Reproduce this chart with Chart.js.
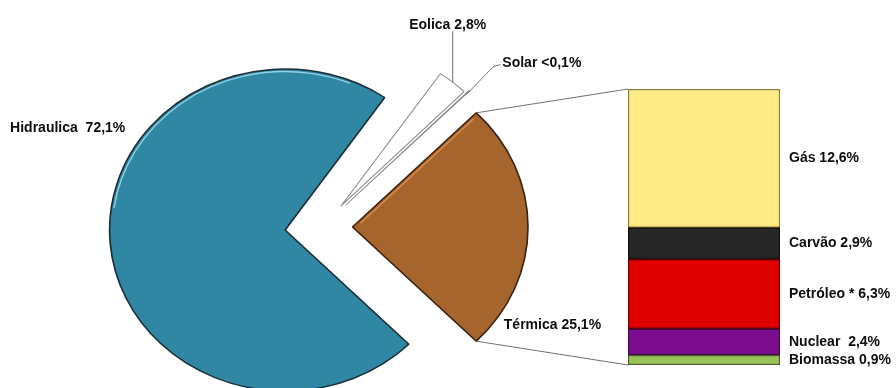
<!DOCTYPE html>
<html lang="pt">
<head>
<meta charset="utf-8">
<title>Matriz elétrica</title>
<script src="https://cdn.jsdelivr.net/npm/chart.js@4.4.1/dist/chart.umd.min.js"></script>
<style>
    html, body { margin: 0; padding: 0; background: #fff; }
    #quadro { position: relative; width: 896px; height: 388px; overflow: hidden; }
    #quadro canvas { position: absolute; left: 0; top: 0; }
</style>
</head>
<body>
<div id="quadro">
    <canvas id="graficoPizza" width="896" height="388"></canvas>
    <canvas id="graficoBarra" width="896" height="388"></canvas>
</div>
<script>
// participação de cada fonte (%)
const fontes = ['Hidraulica', 'Eolica', 'Solar', 'Térmica'];
const valoresFontes = [72.1, 2.8, 0.05, 25.1];
const rotulosFontes = ['Hidraulica  72,1%', 'Eolica 2,8%', 'Solar <0,1%', 'Térmica 25,1%'];

// abertura da térmica (%), de baixo para cima
const termicas = ['Biomassa', 'Nuclear', 'Petróleo', 'Carvão', 'Gás'];
const valoresTermicas = [0.9, 2.4, 6.3, 2.9, 12.6];
const rotulosTermicas = ['Biomassa 0,9%', 'Nuclear  2,4%', 'Petróleo * 6,3%', 'Carvão 2,9%', 'Gás 12,6%'];

// estilo
const coresFontes = ['#2f87a4', '#ffffff', '#ffffff', '#a5652c'];
const bordasFontes = ['#1b2e35', '#8a8a8a', '#8a8a8a', '#3a2210'];
const brilhos = ['rgba(165,222,240,0.85)', null, null, 'rgba(235,150,80,0.9)'];
const coresTermicas = ['#98c35a', '#7b0d8c', '#e00000', '#262626', '#ffeb85'];
const bordasTermicas = ['#4b5e2a', '#3a0742', '#6e0000', '#0d0d0d', '#8c7d3a'];
const explosao = [34, 27, 31, 28];
const esticarX = 1.09;
const fonteTexto = 'bold 14px "Liberation Sans", Arial, sans-serif';
const corTexto = '#0d0d0d';
const corLinha = '#707070';

const indiceTermica = fontes.indexOf('Térmica');
const totalFontes = valoresFontes.reduce((a, b) => a + b, 0);
const antesTermica = valoresFontes.slice(0, indiceTermica).reduce((a, b) => a + b, 0);
// gira a pizza para a fatia térmica ficar voltada para a barra
const rotacao = 90 - 360 * (antesTermica + valoresFontes[indiceTermica] / 2) / totalFontes;
const totalTermicas = valoresTermicas.reduce((a, b) => a + b, 0);

function centro(chart) {
    const a = chart.chartArea;
    return { cx: (a.left + a.right) / 2, cy: (a.top + a.bottom) / 2 };
}

// ponto do arco (espaço sem esticar) levado para a tela
function pontoArco(chart, arco, anguloGraus, r) {
    const { cx } = centro(chart);
    const ang = anguloGraus * Math.PI / 180;
    const x = arco.x + r * Math.cos(ang);
    const y = arco.y + r * Math.sin(ang);
    return { x: cx + (x - cx) * esticarX, y: y };
}

const graus = (rad) => rad * 180 / Math.PI;
const rad = (g) => g * Math.PI / 180;

const pluginExplosao = {
    id: 'explosao',
    afterDatasetUpdate(chart) {
        const { cx, cy } = centro(chart);
        chart.getDatasetMeta(0).data.forEach((arco, i) => {
            const meio = (arco.startAngle + arco.endAngle) / 2;
            arco.x = cx + explosao[i] * Math.cos(meio);
            arco.y = cy + explosao[i] * Math.sin(meio);
        });
    },
    beforeDatasetsDraw(chart) {
        const ctx = chart.ctx;
        const { cx, cy } = centro(chart);
        ctx.save();
        ctx.translate(cx, cy);
        ctx.scale(esticarX, 1);
        ctx.translate(-cx, -cy);
    },
    afterDatasetsDraw(chart) {
        // leve brilho nas bordas, imitando o relevo do original
        const ctx = chart.ctx;
        const arcos = chart.getDatasetMeta(0).data;
        ctx.lineWidth = 1.3;
        const hid = arcos[0];
        ctx.strokeStyle = brilhos[0];
        ctx.beginPath();
        ctx.arc(hid.x, hid.y, hid.outerRadius - 2.5, rad(188), rad(292));
        ctx.stroke();
        const ter = arcos[indiceTermica];
        const s = ter.startAngle;
        const nx = Math.cos(s + Math.PI / 2) * 2.5;
        const ny = Math.sin(s + Math.PI / 2) * 2.5;
        ctx.strokeStyle = brilhos[indiceTermica];
        ctx.beginPath();
        ctx.moveTo(ter.x + nx + Math.cos(s) * 8, ter.y + ny + Math.sin(s) * 8);
        ctx.lineTo(ter.x + nx + Math.cos(s) * (ter.outerRadius - 6), ter.y + ny + Math.sin(s) * (ter.outerRadius - 6));
        ctx.stroke();
        ctx.restore();
    }
};

const pluginRotulosPizza = {
    id: 'rotulosPizza',
    afterDraw(chart) {
        const ctx = chart.ctx;
        const arcos = chart.getDatasetMeta(0).data;
        const raio = arcos[0].outerRadius;
        ctx.save();
        ctx.font = fonteTexto;
        ctx.fillStyle = corTexto;
        ctx.strokeStyle = corLinha;
        ctx.lineWidth = 1;
        ctx.textBaseline = 'middle';

        // Hidraulica, à esquerda
        let p = pontoArco(chart, arcos[0], -140.7, raio);
        ctx.textAlign = 'right';
        ctx.fillText(rotulosFontes[0], p.x - 24, p.y);

        // Eolica, com linha vertical
        let a = arcos[1];
        p = pontoArco(chart, a, graus((a.startAngle + a.endAngle) / 2), raio);
        ctx.beginPath();
        ctx.moveTo(p.x, p.y);
        ctx.lineTo(p.x, p.y - 51);
        ctx.stroke();
        ctx.textAlign = 'center';
        ctx.fillText(rotulosFontes[1], p.x - 5, p.y - 57);

        // Solar, com linha quebrada
        a = arcos[2];
        p = pontoArco(chart, a, graus((a.startAngle + a.endAngle) / 2), raio);
        ctx.beginPath();
        ctx.moveTo(p.x - 3, p.y + 4);
        ctx.lineTo(p.x + 24, p.y - 24);
        ctx.lineTo(p.x + 31, p.y - 26);
        ctx.stroke();
        ctx.textAlign = 'left';
        ctx.fillText(rotulosFontes[2], p.x + 33, p.y - 28);

        // Térmica
        p = pontoArco(chart, arcos[3], 38, raio);
        ctx.fillText(rotulosFontes[3], p.x + 13, p.y - 1);
        ctx.restore();
    }
};

const pizza = new Chart(document.getElementById('graficoPizza'), {
    type: 'pie',
    data: {
        labels: fontes,
        datasets: [{
            data: valoresFontes,
            backgroundColor: coresFontes,
            borderColor: bordasFontes,
            borderWidth: [1.5, 1, 1, 1.5],
            clip: false
        }]
    },
    options: {
        responsive: false,
        animation: false,
        events: [],
        rotation: rotacao,
        radius: 161,
        layout: { padding: { left: 0, right: 252, top: 66, bottom: 0 } },
        plugins: { legend: { display: false }, tooltip: { enabled: false } }
    },
    plugins: [pluginExplosao, pluginRotulosPizza]
});

// linhas da fatia térmica até a barra + rótulos da barra
const pluginLigacoes = {
    id: 'ligacoes',
    beforeDatasetsDraw(chart) {
        const arcoTermica = pizza.getDatasetMeta(0).data[indiceTermica];
        const raio = arcoTermica.outerRadius;
        const baixo = chart.getDatasetMeta(0).data[0];
        const topo = chart.getDatasetMeta(termicas.length - 1).data[0];
        const esquerda = topo.x - topo.width / 2;
        const p1 = pontoArco(pizza, arcoTermica, graus(arcoTermica.startAngle), raio);
        const p2 = pontoArco(pizza, arcoTermica, graus(arcoTermica.endAngle), raio);
        const ctx = chart.ctx;
        ctx.save();
        ctx.strokeStyle = corLinha;
        ctx.lineWidth = 1;
        ctx.beginPath();
        ctx.moveTo(p1.x, p1.y);
        ctx.lineTo(esquerda, topo.y);
        ctx.moveTo(p2.x, p2.y);
        ctx.lineTo(esquerda, baixo.base);
        ctx.stroke();
        ctx.restore();
    },
    afterDraw(chart) {
        const ctx = chart.ctx;
        ctx.save();
        ctx.font = fonteTexto;
        ctx.fillStyle = corTexto;
        ctx.textAlign = 'left';
        ctx.textBaseline = 'middle';
        termicas.forEach((nome, i) => {
            const barra = chart.getDatasetMeta(i).data[0];
            ctx.fillText(rotulosTermicas[i], barra.x + barra.width / 2 + 9, (barra.y + barra.base) / 2);
        });
        ctx.restore();
    }
};

new Chart(document.getElementById('graficoBarra'), {
    type: 'bar',
    data: {
        labels: ['Térmica'],
        datasets: termicas.map((nome, i) => ({
            label: nome,
            data: [valoresTermicas[i]],
            backgroundColor: coresTermicas[i],
            borderColor: bordasTermicas[i],
            borderWidth: 1.5,
            borderSkipped: false,
            barPercentage: 1,
            categoryPercentage: 1
        }))
    },
    options: {
        responsive: false,
        animation: false,
        events: [],
        layout: { padding: { left: 628, right: 116, top: 89, bottom: 23 } },
        plugins: { legend: { display: false }, tooltip: { enabled: false } },
        scales: {
            x: { stacked: true, display: false },
            y: { stacked: true, display: false, min: 0, max: totalTermicas }
        }
    },
    plugins: [pluginLigacoes]
});
</script>
</body>
</html>
